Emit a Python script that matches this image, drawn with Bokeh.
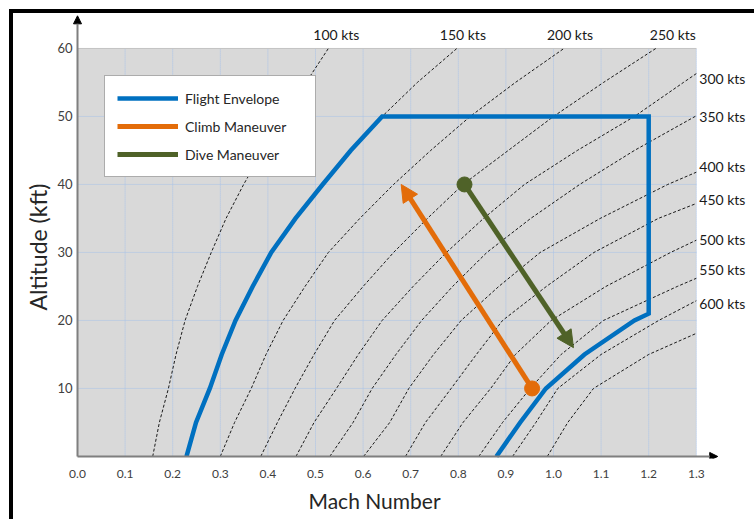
import math
from bokeh.plotting import figure
from bokeh.layouts import column, row
from bokeh.models import (Range1d, FixedTicker, NumeralTickFormatter, Arrow, NormalHead,
                          Legend, LegendItem, Title, Div)
from bokeh.core.properties import value
from bokeh.embed import file_html
from bokeh.resources import INLINE

# ---------------- data ----------------
MACH_TICKS = [0.0, 0.1, 0.2, 0.3, 0.4, 0.5, 0.6, 0.7, 0.8, 0.9, 1.0, 1.1, 1.2, 1.3]
ALT_TICKS = [10, 20, 30, 40, 50, 60]

KCAS_LABELS = ["100 kts", "150 kts", "200 kts", "250 kts", "300 kts", "350 kts",
               "400 kts", "450 kts", "500 kts", "550 kts", "600 kts", ""]

CURVE_ALT = [
    [0, 5, 10, 15, 20, 25, 30, 35, 40, 45, 50, 55, 60],
    [0, 5, 10, 15, 20, 25, 30, 35, 40, 45, 50, 55, 60],
    [0, 5, 10, 15, 20, 25, 30, 35, 40, 45, 50, 55, 60],
    [0, 5, 10, 15, 20, 25, 30, 35, 40, 45, 50, 55, 60],
    [0, 5, 10, 15, 20, 25, 30, 35, 40, 45, 50, 55, 56.3],
    [0, 5, 10, 15, 20, 25, 30, 35, 40, 45, 50.1],
    [0, 5, 10, 15, 20, 25, 30, 35, 40, 41.8],
    [0, 5, 10, 15, 20, 25, 30, 35, 37.2],
    [0, 5, 10, 15, 20, 25, 30, 31.8],
    [0, 5, 10, 15, 20, 25, 26.2],
    [0, 5, 10, 15, 20, 22.9],
    [0, 5, 10, 15, 18.1],
]
CURVE_MACH = [
    [0.158, 0.172, 0.191, 0.207, 0.226, 0.252, 0.281, 0.312, 0.349, 0.390, 0.436, 0.480, 0.527],
    [0.229, 0.249, 0.278, 0.303, 0.332, 0.368, 0.407, 0.458, 0.515, 0.574, 0.640, 0.714, 0.797],
    [0.300, 0.330, 0.365, 0.396, 0.432, 0.478, 0.527, 0.593, 0.664, 0.742, 0.825, 0.920, 1.022],
    [0.385, 0.420, 0.457, 0.497, 0.540, 0.600, 0.664, 0.735, 0.810, 0.905, 1.000, 1.105, 1.215],
    [0.459, 0.497, 0.544, 0.590, 0.640, 0.705, 0.775, 0.853, 0.939, 1.050, 1.170, 1.273, 1.300],
    [0.530, 0.579, 0.619, 0.669, 0.723, 0.788, 0.860, 0.952, 1.055, 1.170, 1.300],
    [0.601, 0.656, 0.696, 0.748, 0.806, 0.885, 0.972, 1.098, 1.240, 1.300],
    [0.689, 0.731, 0.785, 0.838, 0.893, 0.985, 1.085, 1.220, 1.300],
    [0.763, 0.810, 0.868, 0.920, 0.995, 1.110, 1.246, 1.300],
    [0.843, 0.893, 0.951, 1.016, 1.105, 1.260, 1.300],
    [0.914, 0.963, 1.009, 1.100, 1.221, 1.300],
    [0.987, 1.030, 1.084, 1.200, 1.300],
]

ENV_MACH = [0.880, 0.930, 0.984, 1.065, 1.170, 1.200, 1.200, 0.640, 0.574, 0.515, 0.458,
            0.407, 0.368, 0.332, 0.303, 0.278, 0.249, 0.229]
ENV_ALT = [0, 5, 10, 15, 20, 21, 50, 50, 45, 40, 35, 30, 25, 20, 15, 10, 5, 0]

CLIMB_MACH = [0.955, 0.680]
CLIMB_ALT = [10, 40]
DIVE_MACH = [0.813, 1.042]
DIVE_ALT = [40, 16]

# ---------------- styling / layout ----------------
FONT = "Lato"
BLUE = "#0070C0"
ORANGE = "#E36C09"
GREEN = "#4F6228"
GRID = "#A8C2E8"

# small pixel nudges for the speed labels (screen px; top labels: x, right labels: y)
TOP_LABEL_NUDGE_X = [0, -2, -2, 9]
RIGHT_LABEL_NUDGE_Y = [5, 1, -6, -4, -1, -9, 3]

W, H = 741, 506
BL, BR, BT, BB = 59, 0, 0, 61
SX, SY = 476.0, 6.8            # pixels per Mach unit / per kft
X0 = -5.0 / SX
X1 = X0 + (W - BL - BR) / SX
Y0 = -0.3
Y1 = Y0 + (H - BT - BB) / SY

p = figure(width=W, height=H, output_backend="svg", toolbar_location=None,
           x_range=Range1d(X0, X1), y_range=Range1d(Y0, Y1),
           min_border_left=BL, min_border_right=BR, min_border_top=BT, min_border_bottom=BB)
p.outline_line_color = None
p.xgrid.visible = False
p.ygrid.visible = False
p.background_fill_color = "white"
p.border_fill_color = "white"

x_lo, x_hi = MACH_TICKS[0], MACH_TICKS[-1]
y_hi = ALT_TICKS[-1]

# axes (tick labels; the axis lines are drawn as arrows)
p.xaxis.ticker = FixedTicker(ticks=MACH_TICKS)
p.xaxis.formatter = NumeralTickFormatter(format="0.0")
p.yaxis.ticker = FixedTicker(ticks=ALT_TICKS)
for ax in (p.xaxis[0], p.yaxis[0]):
    ax.axis_line_color = None
    ax.major_tick_line_color = None
    ax.minor_tick_line_color = None
    ax.major_tick_out = 0
    ax.major_label_text_font = FONT
    ax.major_label_text_color = "#404040"
p.xaxis.major_label_text_font_size = "12px"
p.yaxis.major_label_text_font_size = "13px"
p.xaxis.major_label_standoff = 11
p.yaxis.major_label_standoff = 0

# axis titles
p.add_layout(Title(text="Mach Number", align="left", offset=236, standoff=10,
                   text_font=FONT, text_font_size="21px", text_font_style="normal",
                   text_color="#262626"), "below")
p.add_layout(Title(text="Altitude (kft)", align="left", offset=148, standoff=6,
                   text_font=FONT, text_font_size="23px", text_font_style="normal",
                   text_color="#262626"), "left")

# plot area
p.quad(left=x_lo, right=x_hi, bottom=0, top=y_hi, fill_color="#D9D9D9", line_color=None)
gx = MACH_TICKS[1:]
p.segment(x0=gx, y0=[0] * len(gx), x1=gx, y1=[y_hi] * len(gx),
          line_color=GRID, line_width=1, line_dash="1 1")
gy = ALT_TICKS[:-1]
p.segment(x0=[x_lo] * len(gy), y0=gy, x1=[x_hi] * len(gy), y1=gy,
          line_color=GRID, line_width=1, line_dash="1 1")
p.segment(x0=[x_lo], y0=[y_hi], x1=[x_hi], y1=[y_hi], line_color="#9A9A9A", line_width=1, line_dash="1 1")

# constant-airspeed curves
p.multi_line(xs=CURVE_MACH, ys=CURVE_ALT, line_color="#1A1A1A", line_width=1, line_dash="3 2")

top_x, top_y, top_t = [], [], []
rt_x, rt_y, rt_t = [], [], []
for xs, ys, lab in zip(CURVE_MACH, CURVE_ALT, KCAS_LABELS):
    if not lab:
        continue
    if ys[-1] >= y_hi:
        top_x.append(xs[-1]); top_y.append(ys[-1]); top_t.append(lab)
    else:
        rt_x.append(xs[-1]); rt_y.append(ys[-1]); rt_t.append(lab)
p.text(x=top_x, y=top_y, text=top_t, text_font=value(FONT), text_font_size="14px",
       text_color="#1A1A1A", text_align="center", text_baseline="middle",
       x_offset=[8 + d for d in TOP_LABEL_NUDGE_X], y_offset=-14)
p.text(x=rt_x, y=rt_y, text=rt_t, text_font=value(FONT), text_font_size="14px",
       text_color="#1A1A1A", text_align="left", text_baseline="middle",
       x_offset=3, y_offset=RIGHT_LABEL_NUDGE_Y)

# axis arrows
p.add_layout(Arrow(x_start=0, y_start=0, x_end=0, y_end=64.8, line_color="#7F7F7F", line_width=2,
                   end=NormalHead(size=8, fill_color="black", line_color="black", line_width=1)))
p.add_layout(Arrow(x_start=0, y_start=0, x_end=1.345, y_end=0, line_color="#7F7F7F", line_width=2,
                   end=NormalHead(size=8, fill_color="black", line_color="black", line_width=1)))

# flight envelope
env = p.line(ENV_MACH, ENV_ALT, line_color=BLUE, line_width=4.5, line_join="miter")


def shaft(xs, ys, back=8.0):
    dx = (xs[1] - xs[0]) * SX
    dy = (ys[1] - ys[0]) * SY
    f = 1 - back / math.hypot(dx, dy)
    return [xs[0], xs[0] + (xs[1] - xs[0]) * f], [ys[0], ys[0] + (ys[1] - ys[0]) * f]


def maneuver(xs, ys, color):
    sx, sy = shaft(xs, ys)
    r = p.line(sx, sy, line_color=color, line_width=5, line_cap="butt")
    p.add_layout(Arrow(x_start=xs[0], y_start=ys[0], x_end=xs[1], y_end=ys[1], line_alpha=0,
                       end=NormalHead(size=17, fill_color=color, line_color=color, line_width=1)))
    p.scatter(x=xs[:1], y=ys[:1], size=15, fill_color=color, line_color=color)
    return r


climb = maneuver(CLIMB_MACH, CLIMB_ALT, ORANGE)
dive = maneuver(DIVE_MACH, DIVE_ALT, GREEN)

legend = Legend(items=[LegendItem(label="Flight Envelope", renderers=[env]),
                       LegendItem(label="Climb Maneuver", renderers=[climb]),
                       LegendItem(label="Dive Maneuver", renderers=[dive])],
                location=(32, 281), margin=0, padding=12, spacing=8,
                glyph_width=61, glyph_height=20, label_standoff=7, label_height=20, label_width=118,
                label_text_font=FONT, label_text_font_size="14px", label_text_color="#262626",
                border_line_color="#595959", border_line_width=1.5,
                background_fill_color="white", background_fill_alpha=1.0)
p.add_layout(legend)

# black picture frame (top and left edges, as in the reference)
top_bar = Div(text="", width=4 + W, height=4, margin=0, styles={"background-color": "black"})
left_bar = Div(text="", width=4, height=H, margin=0, styles={"background-color": "black"})
page = column(top_bar, row(left_bar, p, spacing=0, margin=0), spacing=0, margin=(9, 0, 0, 9))

open("out.html", "w").write(file_html(page, INLINE))
